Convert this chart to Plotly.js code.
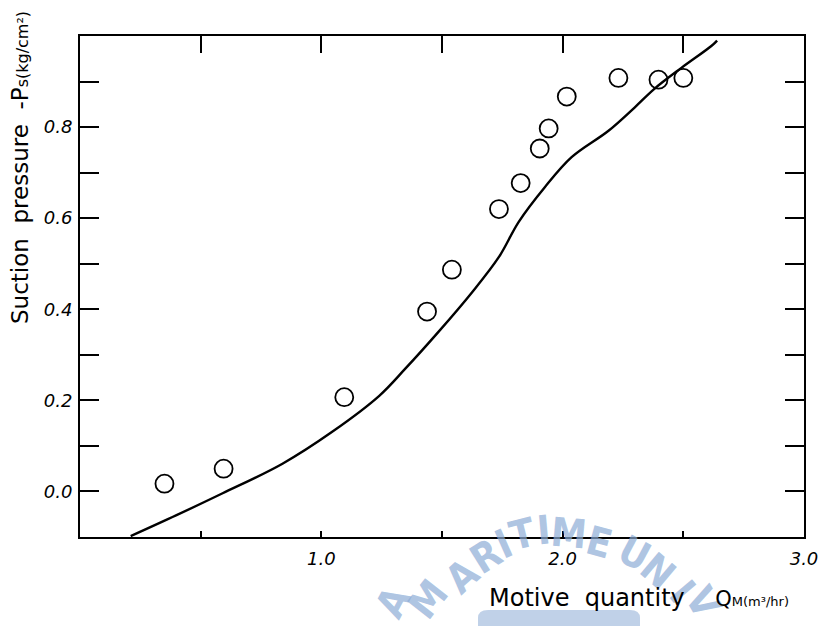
<!DOCTYPE html>
<html>
<head>
<meta charset="utf-8">
<script src="https://cdn.plot.ly/plotly-3.0.1.min.js"></script>
<style>html,body{margin:0;padding:0;background:#fff;}#chart{width:829px;height:626px;}</style>
</head>
<body>
<div id="chart"></div>
<script>
// Measured data points (open circles)
var pointsX = [0.35, 0.595, 1.095, 1.438, 1.541, 1.736, 1.826, 1.905, 1.942, 2.017, 2.231, 2.397, 2.50];
var pointsY = [0.017, 0.050, 0.207, 0.395, 0.487, 0.620, 0.677, 0.753, 0.797, 0.867, 0.908, 0.904, 0.908];

// Calculated curve
var curveX = [0.21, 0.40, 0.591, 0.839, 1.045, 1.24, 1.347, 1.488, 1.624, 1.736, 1.818, 1.926, 2.037, 2.190, 2.298, 2.380, 2.492, 2.616, 2.64];
var curveY = [-0.098, -0.052, -0.004, 0.061, 0.131, 0.210, 0.269, 0.352, 0.437, 0.515, 0.592, 0.668, 0.734, 0.792, 0.843, 0.884, 0.930, 0.978, 0.99];

var xTickVals = [0.5, 1.0, 1.5, 2.0, 2.5, 3.0];
var xTickText = ['', '1.0', '', '2.0', '', '3.0'];
var xTopTickVals = [0.5, 1.0, 1.5, 2.0, 2.5];
var yTickVals = [0.0, 0.1, 0.2, 0.3, 0.4, 0.5, 0.6, 0.7, 0.8, 0.9];
var yTickText = ['0.0', '', '0.2', '', '0.4', '', '0.6', '', '0.8', ''];

// Watermark letters (scan background): letter, centre px x, centre px y, angle
var wmLetters = ['A', 'M', 'A', 'R', 'I', 'T', 'I', 'M', 'E', 'U', 'N', 'I', 'V'];
var wmX = [393, 428, 462, 486, 503, 522, 543, 569, 599, 634, 658, 682, 703];
var wmY = [602, 599, 576, 556, 544, 534, 530, 533, 542, 553, 571, 591, 602];
var wmA = [-62, -52, -42, -32, -24, -14, -5, 5, 15, 28, 40, 50, 60];

var tickFont = {family: 'DejaVu Sans', size: 18, color: '#000', style: 'italic'};

var traces = [
  {
    x: curveX, y: curveY, mode: 'lines', type: 'scatter',
    line: {color: '#000', width: 2.4, shape: 'spline', smoothing: 1},
    hoverinfo: 'skip', showlegend: false
  },
  {
    x: pointsX, y: pointsY, mode: 'markers', type: 'scatter',
    marker: {symbol: 'circle-open', size: 18, color: '#000', line: {color: '#000', width: 1.8}},
    showlegend: false
  },
  {x: [0], y: [0], xaxis: 'x2', mode: 'markers', marker: {opacity: 0}, hoverinfo: 'skip', showlegend: false}
];

var W = 829, H = 626, ML = 80, MR = 25, MT = 36, MB = 89;
var PW = W - ML - MR, PH = H - MT - MB;
function px2paperX(p) { return (p - ML) / PW; }
function px2paperY(p) { return (H - MB - p) / PH; }

var annotations = [];
for (var i = 0; i < wmLetters.length; i++) {
  annotations.push({
    xref: 'paper', yref: 'paper', x: px2paperX(wmX[i]), y: px2paperY(wmY[i]),
    xanchor: 'center', yanchor: 'middle', showarrow: false,
    text: '<b>' + wmLetters[i] + '</b>', textangle: wmA[i],
    font: {family: 'DejaVu Sans Condensed, DejaVu Sans', size: 40, color: 'rgba(140,172,214,0.7)'}
  });
}
annotations.push({
  xref: 'paper', yref: 'paper', x: px2paperX(20), y: px2paperY(168), xanchor: 'center', yanchor: 'middle',
  textangle: -90, showarrow: false,
  text: 'Suction  pressure  -P<span style="font-size:16px">s(kg/cm²)</span>',
  font: {family: 'DejaVu Sans', size: 23, color: '#000'}
});
annotations.push({
  xref: 'paper', yref: 'paper', x: px2paperX(487), y: px2paperY(598), xanchor: 'left', yanchor: 'middle',
  showarrow: false,
  text: 'Motive\u00a0 quantity\u00a0\u00a0\u00a0 <span style="font-size:21px">Q</span><span style="font-size:13px">M(m³/hr)</span>',
  font: {family: 'DejaVu Sans', size: 24, color: '#000'}
});

var layout = {
  width: W, height: H,
  margin: {l: ML, r: MR, t: MT, b: MB},
  paper_bgcolor: '#fff', plot_bgcolor: 'rgba(0,0,0,0)',
  showlegend: false,
  shapes: [{
    type: 'path', xref: 'paper', yref: 'paper', layer: 'below',
    path: 'M ' + px2paperX(478) + ' ' + px2paperY(640) + ' L ' + px2paperX(478) + ' ' + px2paperY(618) +
          ' Q ' + px2paperX(478) + ' ' + px2paperY(610) + ' ' + px2paperX(488) + ' ' + px2paperY(610) +
          ' L ' + px2paperX(630) + ' ' + px2paperY(610) +
          ' Q ' + px2paperX(640) + ' ' + px2paperY(610) + ' ' + px2paperX(640) + ' ' + px2paperY(618) +
          ' L ' + px2paperX(640) + ' ' + px2paperY(640) + ' Z',
    fillcolor: 'rgba(140,172,214,0.55)', line: {width: 0}
  }],
  xaxis: {
    range: [0, 3], showgrid: false, zeroline: false,
    showline: true, linecolor: '#000', linewidth: 2,
    ticks: 'inside', ticklen: 6, tickwidth: 2, tickcolor: '#000',
    tickmode: 'array', tickvals: xTickVals, ticktext: xTickText,
    tickfont: tickFont, ticklabelstandoff: 4
  },
  xaxis2: {
    range: [0, 3], overlaying: 'x', side: 'top', matches: 'x',
    showgrid: false, zeroline: false,
    showline: true, linecolor: '#000', linewidth: 2,
    ticks: 'inside', ticklen: 17, tickwidth: 2, tickcolor: '#000',
    tickmode: 'array', tickvals: xTopTickVals, showticklabels: false
  },
  yaxis: {
    range: [-0.1, 1.0], showgrid: false, zeroline: false,
    showline: true, linecolor: '#000', linewidth: 2, mirror: 'ticks',
    ticks: 'inside', ticklen: 19, tickwidth: 2, tickcolor: '#000',
    tickmode: 'array', tickvals: yTickVals, ticktext: yTickText,
    tickfont: tickFont, ticklabelstandoff: 2
  },
  annotations: annotations
};

Plotly.newPlot('chart', traces, layout, {displayModeBar: false, staticPlot: true});
</script>
</body>
</html>
